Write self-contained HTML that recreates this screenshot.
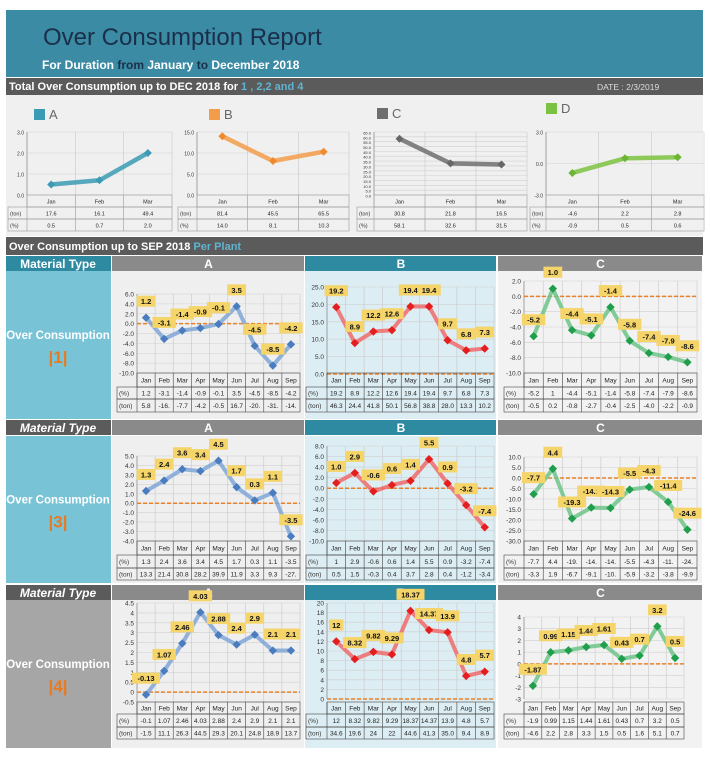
<!DOCTYPE html>
<html><head><meta charset="utf-8">
<style>
html,body{margin:0;padding:0;background:#fff;}
svg{display:block;font-family:"Liberation Sans",sans-serif;}
</style></head>
<body>
<svg id="root" width="710" height="762" viewBox="0 0 710 762" xmlns="http://www.w3.org/2000/svg">
  <rect x="6" y="10" width="697" height="67" fill="#3a8ba3"/>
  <text x="43" y="45" font-size="24" fill="#1b2f4a">Over Consumption Report</text>
  <text x="42" y="69" font-size="12" font-weight="bold" fill="#fff">For Duration <tspan fill="#1b2f4a">from</tspan>  January  <tspan fill="#1b2f4a">to</tspan>  December 2018</text>
  <rect x="6" y="78" width="697" height="17" fill="#5b5b5b"/>
  <text x="9" y="90" font-size="11" font-weight="bold" fill="#fff">Total Over Consumption up to  DEC 2018 for <tspan fill="#5fb4cf">1 , 2,2 and 4</tspan></text>
  <text x="597" y="90" font-size="8.5" fill="#ddd">DATE : 2/3/2019</text>
  <rect x="6" y="95" width="697" height="141" fill="#f0f0f0"/>
  <rect x="6" y="237" width="697" height="18" fill="#5b5b5b"/>
  <text x="9" y="250" font-size="11" font-weight="bold" fill="#fff">Over Consumption up to SEP 2018 <tspan fill="#5fb4cf">Per Plant</tspan></text>
  <g id="charts"></g>
</svg>
<script>
const NS="http://www.w3.org/2000/svg";
const months=["Jan","Feb","Mar","Apr","May","Jun","Jul","Aug","Sep"];
const miniMonths=["Jan","Feb","Mar"];
const miniAPct=[0.5,0.7,2.0], miniATon=[17.6,16.1,49.4];
const miniBPct=[14.0,8.1,10.3], miniBTon=[81.4,45.5,65.5];
const miniCPct=[58.1,32.6,31.5], miniCTon=[30.8,21.8,16.5];
const miniDPct=[-0.9,0.5,0.6], miniDTon=[-4.6,2.2,2.8];
const p1APct=[1.2,-3.1,-1.4,-0.9,-0.1,3.5,-4.5,-8.5,-4.2];
const p1ATon=["5.8","-16.","-7.7","-4.2","-0.5","16.7","-20.","-31.","-14."];
const p1BPct=[19.2,8.9,12.2,12.6,19.4,19.4,9.7,6.8,7.3];
const p1BTon=["46.3","24.4","41.8","50.1","56.8","38.8","28.0","13.3","10.2"];
const p1CPct=[-5.2,1.0,-4.4,-5.1,-1.4,-5.8,-7.4,-7.9,-8.6];
const p1CTon=["-0.5","0.2","-0.8","-2.7","-0.4","-2.5","-4.0","-2.2","-0.9"];
const p3APct=[1.3,2.4,3.6,3.4,4.5,1.7,0.3,1.1,-3.5];
const p3ATon=["13.3","21.4","30.8","28.2","39.9","11.9","3.3","9.3","-27."];
const p3BPct=[1.0,2.9,-0.6,0.6,1.4,5.5,0.9,-3.2,-7.4];
const p3BTon=["0.5","1.5","-0.3","0.4","3.7","2.8","0.4","-1.2","-3.4"];
const p3CPct=[-7.7,4.4,-19.3,-14.1,-14.3,-5.5,-4.3,-11.4,-24.6];
const p3CPctTable=["-7.7","4.4","-19.","-14.","-14.","-5.5","-4.3","-11.","-24."];
const p3CTon=["-3.3","1.9","-6.7","-9.1","-10.","-5.9","-3.2","-3.8","-9.9"];
const p4APct=[-0.13,1.07,2.46,4.03,2.88,2.4,2.9,2.1,2.1];
const p4APctTable=["-0.1","1.07","2.46","4.03","2.88","2.4","2.9","2.1","2.1"];
const p4ATon=["-1.5","11.1","26.3","44.5","29.3","20.1","24.8","18.9","13.7"];
const p4BPct=[12,8.32,9.82,9.29,18.37,14.37,13.9,4.8,5.7];
const p4BTon=["34.6","19.6","24","22","44.6","41.3","35.0","9.4","8.9"];
const p4CPct=[-1.87,0.99,1.15,1.44,1.61,0.43,0.7,3.2,0.5];
const p4CPctTable=["-1.9","0.99","1.15","1.44","1.61","0.43","0.7","3.2","0.5"];
const p4CTon=["-4.6","2.2","2.8","3.3","1.5","0.5","1.6","5.1","0.7"];

const root=document.getElementById('charts');
function mk(tag,attrs,parent,text){const e=document.createElementNS(NS,tag);for(const k in attrs)e.setAttribute(k,attrs[k]);if(text!==undefined)e.textContent=text;(parent||root).appendChild(e);return e;}

function rect(x,y,w,h,fill,name){const r=mk('rect',{x:x,y:y,width:w,height:h,fill:fill});


return r;}
function txt(x,y,s,size,fill,name,extra){const t=mk('text',Object.assign({x:x,y:y,'font-size':size,fill:fill},extra||{}),root,s);


return t;}

function chart(c){
  const cats=c.cats, n=cats.length, colW=(c.right-c.left)/n;
  const ys=v=>c.bottom-(v-c.min)/(c.max-c.min)*(c.bottom-c.top);
  const xs=i=>c.left+colW*(i+0.5);
  for(let v=c.min;v<=c.max+1e-9;v+=c.step){
    const y=ys(v);
    const g=mk('line',{x1:c.left,x2:c.right,y1:y,y2:y,stroke:'#d0d0d0','stroke-width':0.6});
    
    
    txt(c.left-3,y+2.5,c.dec>=0?v.toFixed(c.dec):String(Math.round(v*100)/100),c.tickSize||6.5,'#333','y-tick-label',{'text-anchor':'end'});
  }
  for(let i=0;i<=n;i++){
    const x=c.left+colW*i;
    const g=mk('line',{x1:x,x2:x,y1:c.top,y2:c.bottom,stroke:'#c8c8c8','stroke-width':0.6});
    
    
  }
  const ax=mk('line',{x1:c.left,x2:c.left,y1:c.top,y2:c.bottom,stroke:'#888','stroke-width':0.7});
  
  
  if(c.zero){const y=ys(0);const z=mk('line',{x1:c.left,x2:c.right,y1:y,y2:y,stroke:'#e8822a','stroke-width':1.5,'stroke-dasharray':'4,2'});
    
    }
  const pts=c.vals.map((v,i)=>xs(i).toFixed(1)+','+ys(v).toFixed(1)).join(' ');
  const pl=mk('polyline',{points:pts,fill:'none',stroke:c.line,'stroke-width':c.lw||4,'stroke-linejoin':'round',opacity:0.85});
  
  
  c.vals.forEach((v,i)=>{
    const x=xs(i),y=ys(v),s=c.ms||4;
    const d=mk('polygon',{points:`${x},${y-s} ${x+s},${y} ${x},${y+s} ${x-s},${y}`,fill:c.mark});
    
    
    if(c.labels){
      const s2=c.labelFmt?c.labelFmt(v):String(v), w=s2.length*4.6+5, ly=y-16;
      const b=mk('rect',{x:x-w/2,y:ly-6,width:w,height:11,fill:'#f5d469'});
      
      
      txt(x,ly+2.5,s2,7.5,'#111','data-label',{'text-anchor':'middle','font-weight':'bold'});
    }
  });
  const rows=[['',cats]].concat(c.rows);
  const tl=c.tableLeft;
  for(let r=0;r<rows.length;r++){
    const y0=c.rowY[r],y1=c.rowY[r+1];
    if(r>0){
      const rr=mk('rect',{x:tl,y:y0,width:c.right-tl,height:y1-y0,fill:'none',stroke:c.tstroke||'#444','stroke-width':0.6});
      
      
      txt(tl+2,(y0+y1)/2+2.5,rows[r][0],c.tsize||6.5,'#333','row-label');
    } else {
      const rr=mk('rect',{x:c.left,y:y0,width:c.right-c.left,height:y1-y0,fill:'none',stroke:c.tstroke||'#444','stroke-width':0.6});
      
      
    }
    for(let i=0;i<n;i++){
      const x=c.left+colW*i;
      const l=mk('line',{x1:x,x2:x,y1:y0,y2:y1,stroke:c.tstroke||'#444','stroke-width':0.6});
      
      
      const val=rows[r][1][i];
      txt(x+colW/2,(y0+y1)/2+2.5,typeof val==='number'?(c.fmt?c.fmt(val):String(val)):val,c.tsize||6.5,'#222',r===0?'month-label':'table-cell',{'text-anchor':'middle'});
    }
  }
}

const miniSets=[
 {name:'A',col:'#3b9bb4',mark:'#3b9bb4',pct:miniAPct,ton:miniATon,min:0,max:3,step:1,tl:8,left:27,right:172,lx:34,ly:109},
 {name:'B',col:'#f39c4a',mark:'#f08a30',pct:miniBPct,ton:miniBTon,min:0,max:15,step:5,tl:178,left:197,right:349,lx:209,ly:109},
 {name:'C',col:'#6e6e6e',mark:'#666',pct:miniCPct,ton:miniCTon,min:0,max:65,step:5,tl:357,left:374,right:527,lx:377,ly:108},
 {name:'D',col:'#7cc242',mark:'#6cb534',pct:miniDPct,ton:miniDTon,min:-3,max:3,step:3,tl:530,left:546,right:704,lx:546,ly:103}
];
miniSets.forEach(m=>{
  rect(m.lx,m.ly,11,11,m.col,'legend-swatch-'+m.name.toLowerCase());
  txt(m.lx+15,m.ly+10,m.name,13,'#666','legend-label-'+m.name.toLowerCase());
  chart({cats:miniMonths,vals:m.pct,min:m.min,max:m.max,step:m.step,dec:1,left:m.left,right:m.right,top:132,bottom:195,
    line:m.col,mark:m.mark,lw:4.5,ms:4,labels:false,zero:false,tableLeft:m.tl,rowY:[195,207,219,231],tstroke:'#999',
    rows:[['(ton)',m.ton],['(%)',m.pct]],tickSize:m.name==='C'?4:5,tsize:5.5,fmt:v=>v.toFixed(1)});
});

const plantRows=[
 {id:'1',hy:256,by:271,bh:148,mtBg:'#2e8aa0',mtItalic:false,leftBg:'#79c3d7',lf:v=>v.toFixed(1),
  charts:[
   {vals:p1APct,pct:p1APct,ton:p1ATon,min:-10,max:6,step:2,dec:1,top:294,bottom:373},
   {vals:p1BPct,pct:p1BPct,ton:p1BTon,min:0,max:25,step:5,dec:1,top:287,bottom:374},
   {vals:p1CPct,pct:p1CPct,ton:p1CTon,min:-10,max:2,step:2,dec:1,top:281,bottom:373}],
  rowY:[373,387,399,412]},
 {id:'3',hy:420,by:436,bh:147,mtBg:'#5b5b5b',mtItalic:true,leftBg:'#79c3d7',lf:v=>v.toFixed(1),
  charts:[
   {vals:p3APct,pct:p3APct,ton:p3ATon,min:-4,max:5,step:1,dec:1,top:456,bottom:541},
   {vals:p3BPct,pct:p3BPct,ton:p3BTon,min:-10,max:8,step:2,dec:1,top:446,bottom:541},
   {vals:p3CPct,pct:p3CPctTable,ton:p3CTon,min:-30,max:10,step:5,dec:1,top:457,bottom:541}],
  rowY:[541,555,568,580]},
 {id:'4',hy:585,by:600,bh:148,mtBg:'#5b5b5b',mtItalic:true,leftBg:'#a6a6a6',lf:null,
  charts:[
   {vals:p4APct,pct:p4APctTable,ton:p4ATon,min:-0.5,max:4.5,step:0.5,dec:-1,top:603,bottom:702},
   {vals:p4BPct,pct:p4BPct,ton:p4BTon,min:0,max:20,step:2,dec:-1,top:603,bottom:699},
   {vals:p4CPct,pct:p4CPctTable,ton:p4CTon,min:-3,max:4,step:1,dec:-1,top:617,bottom:699,rightOverride:684}],
  rowY:[702,714,727,739]}
];
const cols=[
 {name:'A',x:112,w:193,hdr:'#8a8a8a',panel:'#efefef',tl:117,left:137,right:300,line:'#7fa6d6',mark:'#4a7cc0'},
 {name:'B',x:305,w:192,hdr:'#2e8aa0',panel:'#dcedf3',tl:306,left:327,right:494,line:'#f06a6a',mark:'#e41e1e'},
 {name:'C',x:498,w:205,hdr:'#8a8a8a',panel:'#f2f2f2',tl:504,left:524,right:697,line:'#6cc488',mark:'#1f9e4c'}
];
plantRows.forEach(pr=>{
  rect(6,pr.hy,105,15,pr.mtBg,'material-type-header');
  txt(58,pr.hy+12,'Material Type',12,'#fff','material-type-label',{'text-anchor':'middle','font-weight':'bold','font-style':pr.mtItalic?'italic':'normal'});
  rect(6,pr.by,105,pr.bh,pr.leftBg,'plant-'+pr.id+'-label-cell');
  txt(58,pr.by+pr.bh/2-6,'Over Consumption',11.5,'#fff','over-consumption-label',{'text-anchor':'middle','font-weight':'bold'});
  txt(58,pr.by+pr.bh/2+18,'|'+pr.id+'|',17,'#e87a22','plant-'+pr.id+'-id',{'text-anchor':'middle','font-weight':'bold'});
  cols.forEach((c,ci)=>{
    rect(c.x,pr.hy,c.w-1,15,c.hdr,'material-'+c.name.toLowerCase()+'-header');
    txt(c.x+c.w/2,pr.hy+12,c.name,12,'#fff','material-'+c.name.toLowerCase()+'-title',{'text-anchor':'middle','font-weight':'bold'});
    rect(c.x,pr.by,c.w-1,pr.bh,c.panel,'plant-'+pr.id+'-'+c.name.toLowerCase()+'-panel');
    const d=pr.charts[ci];
    const right=d.rightOverride||c.right;
    chart({cats:months,vals:d.vals,min:d.min,max:d.max,step:d.step,dec:d.dec,left:c.left,right:right,top:d.top,bottom:d.bottom,
      line:c.line,mark:c.mark,lw:4,ms:4.2,labels:true,labelFmt:pr.lf,zero:true,tableLeft:c.tl,rowY:pr.rowY,
      rows:[['(%)',d.pct],['(ton)',d.ton]],tickSize:6.5,tsize:6.5});
  });
});
</script>
</body></html>
